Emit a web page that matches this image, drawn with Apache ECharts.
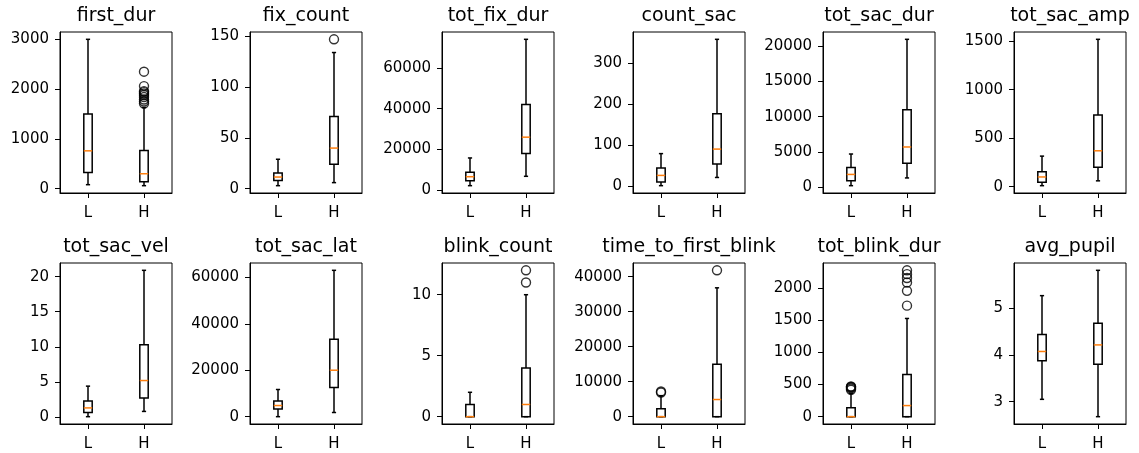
<!DOCTYPE html>
<html>
<head>
<meta charset="utf-8">
<script src="https://cdn.jsdelivr.net/npm/echarts@6/dist/echarts.min.js"></script>
<style>
  html, body { margin: 0; padding: 0; background: #fff; }
  #chart { width: 1139px; height: 453px; }
</style>
</head>
<body>
<div id="chart"></div>
<script>
const groups = ['L', 'H'];
const titles = ['first_dur', 'fix_count', 'tot_fix_dur', 'count_sac', 'tot_sac_dur', 'tot_sac_amp',
  'tot_sac_vel', 'tot_sac_lat', 'blink_count', 'time_to_first_blink', 'tot_blink_dur', 'avg_pupil'];

// box stats per group: [low whisker, q1, median, q3, high whisker]
const firstDurBox = [[80, 327, 760, 1500, 3000], [60, 140, 300, 767, 1630]];
const firstDurOut = [[], [1710, 1750, 1790, 1840, 1880, 1910, 1940, 1960, 2060, 2350]];
const fixCountBox = [[3, 8, 11.5, 15.5, 29], [6, 24, 40, 71, 134]];
const fixCountOut = [[], [147]];
const totFixDurBox = [[2200, 4600, 6600, 8800, 15800], [6800, 18000, 26000, 42000, 74000]];
const totFixDurOut = [[], []];
const countSacBox = [[2, 11, 27, 45, 80], [22, 55, 91, 177, 358]];
const countSacOut = [[], []];
const totSacDurBox = [[200, 900, 1800, 2800, 4700], [1300, 3400, 5700, 11000, 21000]];
const totSacDurOut = [[], []];
const totSacAmpBox = [[10, 45, 100, 155, 315], [60, 200, 370, 740, 1520]];
const totSacAmpOut = [[], []];
const totSacVelBox = [[0.05, 0.65, 1.3, 2.3, 4.4], [0.8, 2.7, 5.2, 10.3, 20.9]];
const totSacVelOut = [[], []];
const totSacLatBox = [[0, 3300, 4800, 6700, 11700], [1800, 12600, 20000, 33300, 63000]];
const totSacLatOut = [[], []];
const blinkCountBox = [[0, 0, 0, 1, 2], [0, 0, 1, 4, 10]];
const blinkCountOut = [[], [11, 12]];
const firstBlinkBox = [[0, 0, 0, 2300, 6000], [0, 0, 4900, 15000, 36800]];
const firstBlinkOut = [[6900, 7200], [41800]];
const totBlinkDurBox = [[0, 0, 0, 140, 360], [0, 0, 173, 656, 1530]];
const totBlinkDurOut = [[420, 440, 455, 465, 470], [1730, 1960, 2090, 2160, 2220, 2280]];
const avgPupilBox = [[3.05, 3.87, 4.07, 4.43, 5.26], [2.68, 3.80, 4.21, 4.67, 5.80]];
const avgPupilOut = [[], []];

// y tick labels per panel
const ticks = [
  [0, 1000, 2000, 3000],
  [0, 50, 100, 150],
  [0, 20000, 40000, 60000],
  [0, 100, 200, 300],
  [0, 5000, 10000, 15000, 20000],
  [0, 500, 1000, 1500],
  [0, 5, 10, 15, 20],
  [0, 20000, 40000, 60000],
  [0, 5, 10],
  [0, 10000, 20000, 30000, 40000],
  [0, 500, 1000, 1500, 2000],
  [3, 4, 5]
];

const boxes = [firstDurBox, fixCountBox, totFixDurBox, countSacBox, totSacDurBox, totSacAmpBox,
  totSacVelBox, totSacLatBox, blinkCountBox, firstBlinkBox, totBlinkDurBox, avgPupilBox];
const outs = [firstDurOut, fixCountOut, totFixDurOut, countSacOut, totSacDurOut, totSacAmpOut,
  totSacVelOut, totSacLatOut, blinkCountOut, firstBlinkOut, totBlinkDurOut, avgPupilOut];

const colLeft = [60, 250, 442, 633, 823, 1014];
const rowTop = [32, 263];
const plotW = 112, plotH = 161;
const font = 'DejaVu Sans';
const lw = 1.5;

function renderBox(params, api) {
  const x = api.value(0);
  const lo = api.coord([x, api.value(1)]);
  const q1 = api.coord([x, api.value(2)]);
  const md = api.coord([x, api.value(3)]);
  const q3 = api.coord([x, api.value(4)]);
  const hi = api.coord([x, api.value(5)]);
  const band = api.size([1, 0])[0];
  const hw = band * 0.075, cw = band * 0.0375;
  const cx = lo[0];
  const st = { stroke: '#000', lineWidth: lw, fill: null };
  const line = (x1, y1, x2, y2, s) => ({ type: 'line', shape: { x1, y1, x2, y2 }, style: s || st });
  return {
    type: 'group',
    children: [
      line(cx, q1[1], cx, lo[1]),
      line(cx, q3[1], cx, hi[1]),
      line(cx - cw, lo[1], cx + cw, lo[1]),
      line(cx - cw, hi[1], cx + cw, hi[1]),
      { type: 'rect', shape: { x: cx - hw, y: q3[1], width: hw * 2, height: q1[1] - q3[1] }, style: st },
      line(cx - hw, md[1], cx + hw, md[1], { stroke: '#ff7f0e', lineWidth: lw })
    ]
  };
}

const grid = [], xAxis = [], yAxis = [], series = [], title = [];
for (let i = 0; i < 12; i++) {
  const left = colLeft[i % 6], top = rowTop[Math.floor(i / 6)];
  const all = boxes[i].flat().concat(outs[i].flat());
  const lo = Math.min(...all), hi = Math.max(...all);
  const pad = (hi - lo) * 0.05;

  grid.push({ left, top, width: plotW, height: plotH, show: true, borderColor: '#000', borderWidth: 1, containLabel: false });
  title.push({
    text: titles[i], left: left + plotW / 2, top: top - 25, textAlign: 'center', padding: 0,
    textStyle: { fontFamily: font, fontSize: 19, fontWeight: 'normal', color: '#000' }
  });
  xAxis.push({
    type: 'category', gridIndex: i, data: groups, boundaryGap: true,
    axisLine: { show: true, onZero: false, lineStyle: { color: '#000', width: 1 } },
    axisTick: { show: true, alignWithLabel: true, length: 5, lineStyle: { color: '#000', width: 1 } },
    axisLabel: { color: '#000', fontFamily: font, fontSize: 15, margin: 13 },
    splitLine: { show: false }
  });
  yAxis.push({
    type: 'value', gridIndex: i, min: lo - pad, max: hi + pad,
    axisLine: { show: true, onZero: false, lineStyle: { color: '#000', width: 1 } },
    axisTick: { show: true, length: 5, customValues: ticks[i], lineStyle: { color: '#000', width: 1 } },
    axisLabel: {
      color: '#000', fontFamily: font, fontSize: 15, margin: 11, customValues: ticks[i],
      formatter: v => String(v)
    },
    splitLine: { show: false }
  });
  series.push({
    type: 'custom', xAxisIndex: i, yAxisIndex: i, renderItem: renderBox,
    encode: { x: 0, y: [1, 2, 3, 4, 5] },
    data: boxes[i].map((b, g) => [g].concat(b)),
    z: 2
  });
  const pts = [];
  outs[i].forEach((vals, g) => vals.forEach(v => pts.push([g, v])));
  series.push({
    type: 'scatter', xAxisIndex: i, yAxisIndex: i, data: pts,
    symbol: 'circle', symbolSize: 9,
    itemStyle: { color: 'rgba(0,0,0,0)', borderColor: '#000', borderWidth: 1.4 },
    z: 3
  });
}

const chart = echarts.init(document.getElementById('chart'));
chart.setOption({
  animation: false,
  backgroundColor: '#fff',
  title, grid, xAxis, yAxis, series
});
</script>
</body>
</html>
